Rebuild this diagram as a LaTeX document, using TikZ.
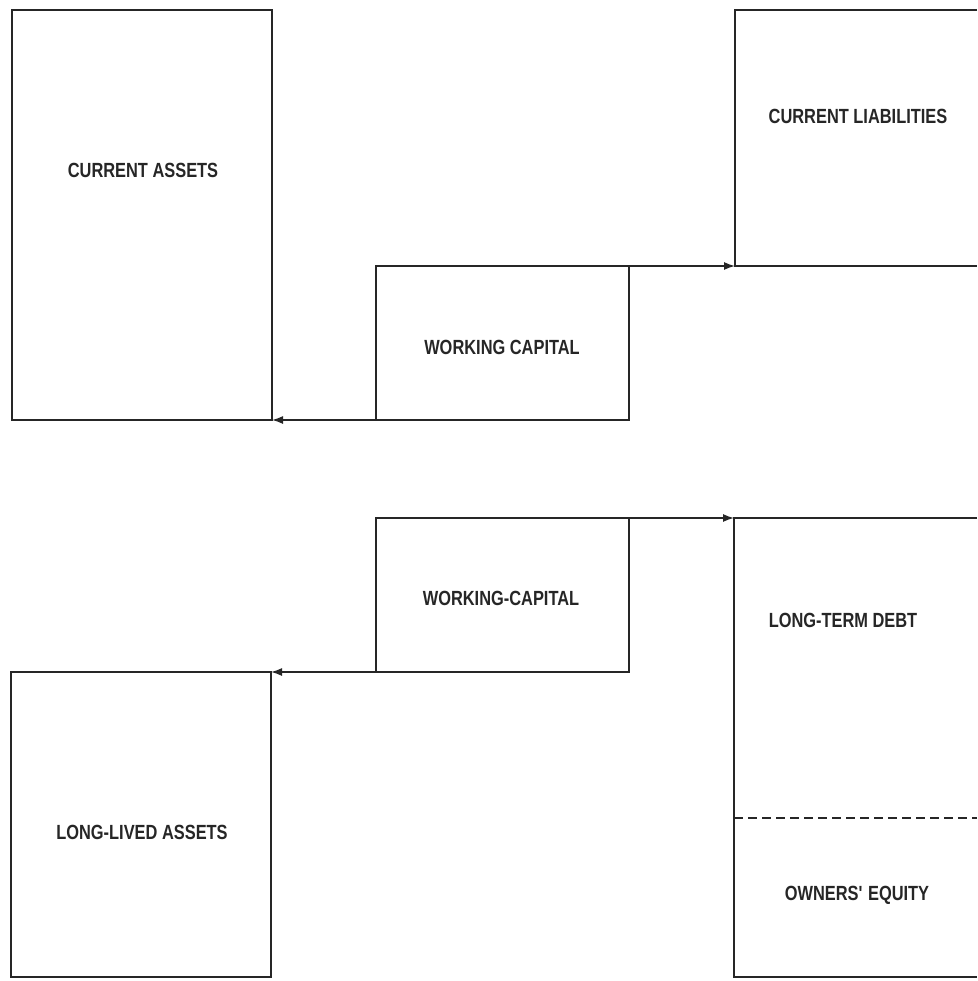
\documentclass[tikz,border=0pt]{standalone}
\usepackage{fontspec}
\setmainfont{Liberation Sans}[FakeStretch=0.8]
\usetikzlibrary{arrows.meta}
\begin{document}
\begin{tikzpicture}[x=1pt,y=-1pt,
  line/.style={draw=black!85, line width=1.4pt},
  box/.style={line, rectangle, inner sep=0pt, outer sep=0pt},
  lbl/.style={font=\fontsize{20.5}{24}\selectfont\bfseries, text=black!85, inner sep=0pt},
  flow/.style={line, -{Latex[length=11pt,width=8pt]}},
  sep/.style={draw=black!85, line width=1.4pt, dash pattern=on 9pt off 5pt}]
\useasboundingbox (0,0) rectangle (977,981);
% top half
\node[box, minimum width=260pt, minimum height=410pt] (ca) at (142,215) {};
\node[lbl] (catext) at (143,170) {CURRENT ASSETS};
\coordinate (cltr) at (977,10);
\coordinate (cltl) at (735,10);
\coordinate (clbl) at (735,266);
\coordinate (clbr) at (977,266);
\draw[line] (cltr) -- (cltl) -- (clbl) -- (clbr);
\node[lbl] (cltext) at (858,116) {CURRENT LIABILITIES};
\node[box, minimum width=253pt, minimum height=154pt] (wc1) at (502.5,343) {};
\node[lbl] (wc1text) at (502,347) {WORKING CAPITAL};
\draw[flow] (wc1.north east) -- (clbl);
\draw[flow] (wc1.south west) -- (ca.south east);
% bottom half
\node[box, minimum width=253pt, minimum height=154pt] (wc2) at (502.5,595) {};
\node[lbl] (wc2text) at (501,598) {WORKING-CAPITAL};
\node[box, minimum width=260pt, minimum height=305pt] (la) at (141,824.5) {};
\node[lbl] (latext) at (142,832) {LONG-LIVED ASSETS};
\coordinate (ldtr) at (977,518);
\coordinate (ldtl) at (734,518);
\coordinate (ldbl) at (734,977);
\coordinate (ldbr) at (977,977);
\draw[line] (ldtr) -- (ldtl) -- (ldbl) -- (ldbr);
\coordinate (dl) at (734,818);
\coordinate (dr) at (977,818);
\draw[sep] (dl) -- (dr);
\node[lbl] (ldtext) at (843,620) {LONG-TERM DEBT};
\node[lbl] (oetext) at (857,895) {OWNERS\textquotesingle\ EQUITY};
\draw[flow] (wc2.north east) -- (ldtl);
\draw[flow] (wc2.south west) -- (la.north east);
\end{tikzpicture}
\end{document}
